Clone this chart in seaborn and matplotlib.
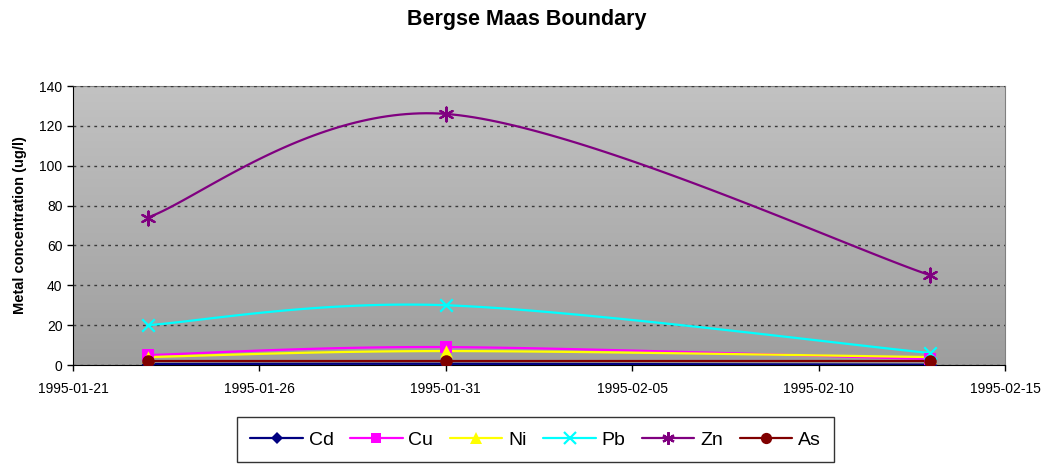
import numpy as np
import pandas as pd
import matplotlib
matplotlib.use("Agg")
import matplotlib.pyplot as plt
import matplotlib.dates as mdates
from matplotlib.lines import Line2D
import seaborn as sns

# sample dates and concentrations (ug/l)
dates = ["1995-01-23", "1995-01-31", "1995-02-13"]
cd = [0.5, 0.6, 0.2]
cu = [5, 9, 3]
ni = [4, 7, 4]
pb = [20, 30, 6]
zn = [74, 126, 45]
as_ = [2, 2, 2]

metals = ["Cd", "Cu", "Ni", "Pb", "Zn", "As"]
values = [cd, cu, ni, pb, zn, as_]
colors = ["#000080", "#ff00ff", "#ffff00", "#00ffff", "#800080", "#800000"]
markers = ["D", "s", "^", "x", (6, 2, 0), "o"]
msizes = [7, 8, 9, 9, 10, 9]

sns.set_style("ticks")
plt.rcParams["font.family"] = ["Liberation Sans", "DejaVu Sans"]
plt.rcParams.update({"text.color": "black", "axes.labelcolor": "black",
                     "xtick.color": "black", "ytick.color": "black"})

fig = plt.figure(figsize=(10.46, 4.65), dpi=100)
ax = fig.add_axes([0.0698, 0.215, 0.891, 0.6])

# grey gradient plot area like Excel
grad = np.linspace(0, 1, 256).reshape(-1, 1)
ax.imshow(grad, cmap=matplotlib.colors.LinearSegmentedColormap.from_list(
    "g", ["#c2c2c2", "#9e9e9e"]), aspect="auto",
    extent=[0, 1, 0, 1], transform=ax.transAxes, zorder=0)

x = mdates.date2num(pd.to_datetime(dates))


def smooth(xs, ys, sx=37.3, sy=2.0, n=60):
    # Excel-style bezier smoothing done in pixel-ish space
    P = np.column_stack([np.asarray(xs) * sx, np.asarray(ys, float) * sy])
    out = []
    for i in range(len(P) - 1):
        p0 = P[i - 1] if i > 0 else P[i]
        p1, p2 = P[i], P[i + 1]
        p3 = P[i + 2] if i + 2 < len(P) else P[i + 1]
        c1 = p1 + (p2 - p0) / 6
        c2 = p2 - (p3 - p1) / 6
        t = np.linspace(0, 1, n)[:, None]
        seg = ((1 - t) ** 3) * p1 + 3 * ((1 - t) ** 2) * t * c1 \
            + 3 * (1 - t) * t ** 2 * c2 + t ** 3 * p2
        out.append(seg if i == 0 else seg[1:])
    out = np.vstack(out)
    return out[:, 0] / sx, out[:, 1] / sy


for name, ys, c, m, ms in zip(metals, values, colors, markers, msizes):
    sxs, sys_ = smooth(x, ys)
    ax.plot(sxs, sys_, color=c, lw=1.6, zorder=3)
    sns.scatterplot(x=x, y=ys, ax=ax, color=c, marker=m, s=ms ** 2,
                    linewidth=1.6 if m in ("x", (6, 2, 0)) else 0,
                    edgecolor=c, zorder=4, legend=False)

ax.set_xlim(mdates.date2num(pd.Timestamp("1995-01-21")),
            mdates.date2num(pd.Timestamp("1995-02-15")))
ax.set_ylim(0, 140)
ax.set_yticks(range(0, 141, 20))
ax.set_xticks(mdates.date2num(pd.date_range("1995-01-21", periods=6, freq="5D")))
ax.xaxis.set_major_formatter(mdates.DateFormatter("%Y-%m-%d"))
ax.tick_params(labelsize=10, length=4, width=1, color="black")
ax.tick_params(axis="x", pad=8)
ax.yaxis.grid(True, linestyle=(0, (2, 3)), color="#3a3a3a", lw=1)
ax.set_axisbelow(False)
for s in ["top", "right"]:
    ax.spines[s].set_color("#808080")
for s in ["left", "bottom"]:
    ax.spines[s].set_color("black")

ax.set_ylabel("Metal concentration (ug/l)", fontsize=10.5, fontweight="bold",
              labelpad=9)
fig.suptitle("Bergse Maas Boundary", fontsize=15.5, fontweight="bold",
             x=0.504, y=0.98)

handles = [Line2D([0], [0], color=c, lw=1.6, marker=m, markersize=ms * 0.9,
                  markeredgewidth=1.6 if m in ("x", (6, 2, 0)) else 0)
           for c, m, ms in zip(colors, markers, msizes)]
leg = fig.legend(handles, metals, loc="center", bbox_to_anchor=(0.512, 0.054),
                 ncol=6, fontsize=14, frameon=True, fancybox=False,
                 handlelength=2.7, handletextpad=0.3, columnspacing=0.85,
                 borderpad=0.7)
leg.get_frame().set_edgecolor("black")
leg.get_frame().set_linewidth(1)

fig.savefig("out.png", dpi=100)
